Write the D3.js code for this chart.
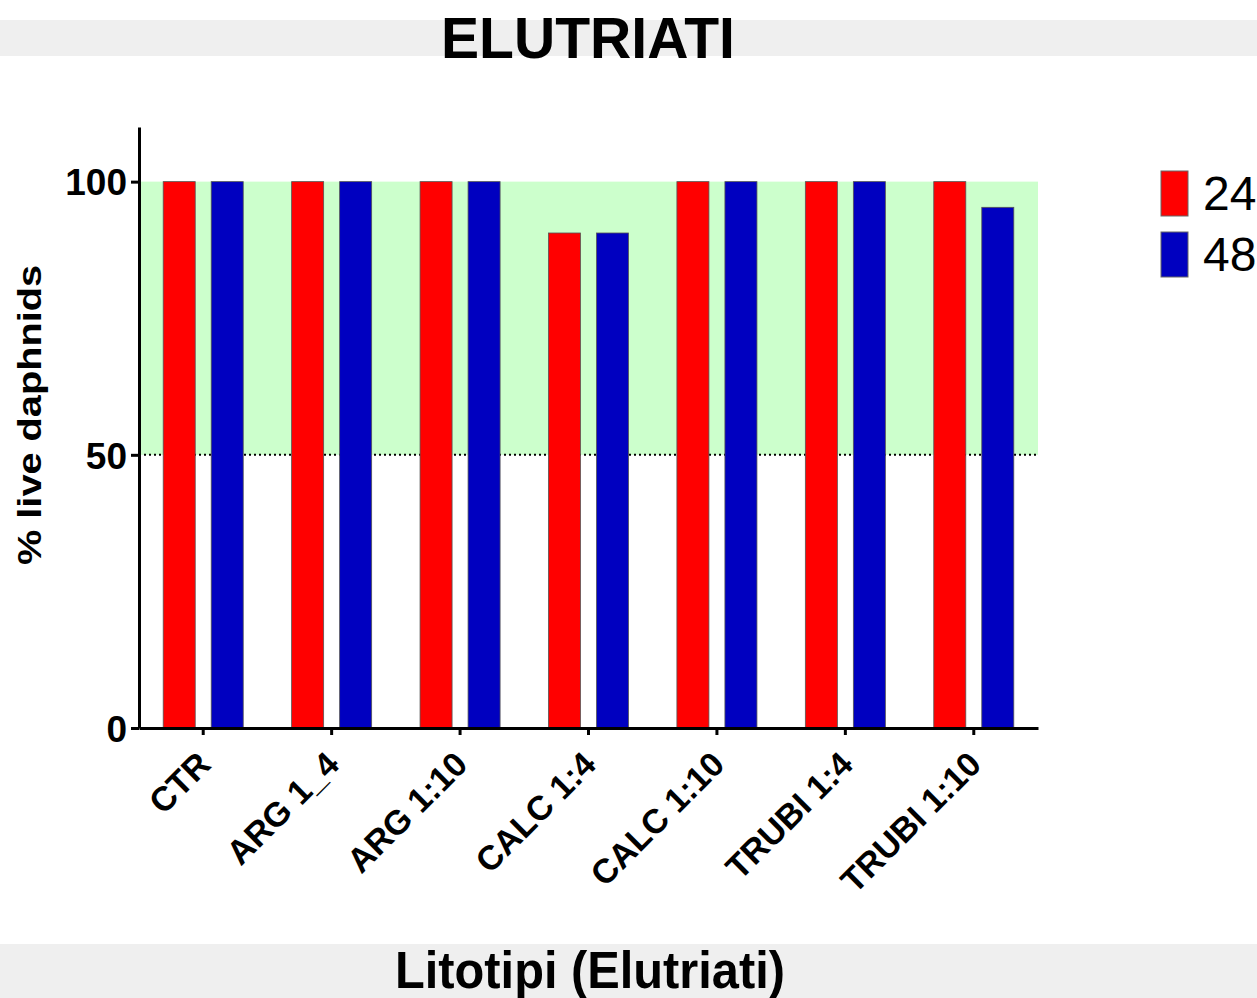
<!DOCTYPE html>
<html>
<head>
<meta charset="utf-8">
<script src="https://cdn.jsdelivr.net/npm/d3@7"></script>
<style>
  body { margin: 0; background: #fff; }
  svg { display: block; font-family: "Liberation Sans", Arial, sans-serif; }
</style>
</head>
<body>
<div id="chart"></div>
<script>
// Data
const categories = ["CTR", "ARG 1_4", "ARG 1:10", "CALC 1:4", "CALC 1:10", "TRUBI 1:4", "TRUBI 1:10"];
const seriesNames = ["24", "48"];
const values24 = [100, 100, 100, 90.6, 100, 100, 100];
const values48 = [100, 100, 100, 90.6, 100, 100, 95.3];
const yTicks = [0, 50, 100];
const band = [50, 100]; // shaded range

const colors = { "24": "#ff0000", "48": "#0000c0" };

const W = 1257, H = 998;
const svg = d3.select("#chart")
    .append("svg")
    .attr("width", W)
    .attr("height", H);

// Scales
const x0 = d3.scaleBand()
    .domain(categories)
    .range([139, 1038])
    .padding(0);

const x1 = d3.scaleBand()
    .domain(seriesNames)
    .range([0, x0.bandwidth()])
    .paddingInner(0.333)
    .paddingOuter(0.504);

const y = d3.scaleLinear()
    .domain([0, 110])
    .range([728, 127]);

// Title band
svg.append("rect")
    .attr("x", 0).attr("y", 20)
    .attr("width", W).attr("height", 36)
    .attr("fill", "#efefef");

svg.append("text")
    .attr("x", 588)
    .attr("y", 58)
    .attr("text-anchor", "middle")
    .attr("textLength", 294)
    .attr("lengthAdjust", "spacingAndGlyphs")
    .style("font-size", "58px")
    .style("font-weight", "bold")
    .text("ELUTRIATI");

// Green band from 50 to 100
svg.append("rect")
    .attr("x", x0.range()[0])
    .attr("y", y(band[1]))
    .attr("width", x0.range()[1] - x0.range()[0])
    .attr("height", y(band[0]) - y(band[1]))
    .attr("fill", "#ccffcc");

// Dotted line at 50
svg.append("line")
    .attr("x1", x0.range()[0])
    .attr("x2", x0.range()[1])
    .attr("y1", y(band[0]))
    .attr("y2", y(band[0]))
    .attr("stroke", "#000")
    .attr("stroke-width", 2)
    .attr("stroke-dasharray", "2,3");

// Bars
const rows = categories.map((c, i) => ({ cat: c, vals: [
    { key: "24", value: values24[i] },
    { key: "48", value: values48[i] }
] }));

const groups = svg.append("g")
    .selectAll("g")
    .data(rows)
    .join("g")
    .attr("transform", d => `translate(${x0(d.cat)},0)`);

groups.selectAll("rect")
    .data(d => d.vals)
    .join("rect")
    .attr("x", d => x1(d.key))
    .attr("y", d => y(d.value))
    .attr("width", x1.bandwidth())
    .attr("height", d => y(0) - y(d.value))
    .attr("fill", d => colors[d.key])
    .attr("stroke", "#555")
    .attr("stroke-width", 0.8);

// Axes
const yAxis = svg.append("g")
    .attr("transform", `translate(${x0.range()[0]},0)`)
    .call(d3.axisLeft(y).tickValues(yTicks).tickSize(8).tickSizeOuter(0).tickPadding(4));

yAxis.select(".domain").attr("stroke-width", 3);
yAxis.selectAll(".tick line").attr("stroke-width", 3);
yAxis.selectAll(".tick text")
    .attr("font-family", "Liberation Sans, Arial, sans-serif")
    .style("font-size", "37px")
    .style("font-weight", "bold")
    .attr("dy", "0.36em");

const xAxis = svg.append("g")
    .attr("transform", `translate(0,${y(0)})`)
    .call(d3.axisBottom(x0).tickSize(7).tickSizeOuter(0));

xAxis.select(".domain").attr("stroke-width", 3);
xAxis.selectAll(".tick line").attr("stroke-width", 3);
xAxis.selectAll(".tick text")
    .attr("font-family", "Liberation Sans, Arial, sans-serif")
    .style("font-size", "34px")
    .style("font-weight", "bold")
    .attr("text-anchor", "end")
    .attr("x", 0)
    .attr("y", 0)
    .attr("dy", "0.35em")
    .attr("transform", "translate(1,30) rotate(-45)");

// Y axis label
svg.append("text")
    .attr("transform", "translate(41,415) rotate(-90)")
    .attr("text-anchor", "middle")
    .attr("textLength", 300)
    .attr("lengthAdjust", "spacingAndGlyphs")
    .style("font-size", "34px")
    .style("font-weight", "bold")
    .text("% live daphnids");

// Legend
const legend = svg.append("g")
    .attr("transform", "translate(1161,171)");

seriesNames.forEach((s, i) => {
    legend.append("rect")
        .attr("x", 0)
        .attr("y", i * 61)
        .attr("width", 27)
        .attr("height", 45)
        .attr("fill", colors[s])
        .attr("stroke", "#666")
        .attr("stroke-width", 1);
    legend.append("text")
        .attr("x", 42)
        .attr("y", i * 61 + 39)
        .style("font-size", "48px")
        .text(s);
});

// Bottom band with x axis title
svg.append("rect")
    .attr("x", 0).attr("y", 944)
    .attr("width", W).attr("height", H - 944)
    .attr("fill", "#efefef");

svg.append("text")
    .attr("x", 590)
    .attr("y", 988)
    .attr("text-anchor", "middle")
    .attr("textLength", 390)
    .attr("lengthAdjust", "spacingAndGlyphs")
    .style("font-size", "52px")
    .style("font-weight", "bold")
    .text("Litotipi (Elutriati)");
</script>
</body>
</html>
